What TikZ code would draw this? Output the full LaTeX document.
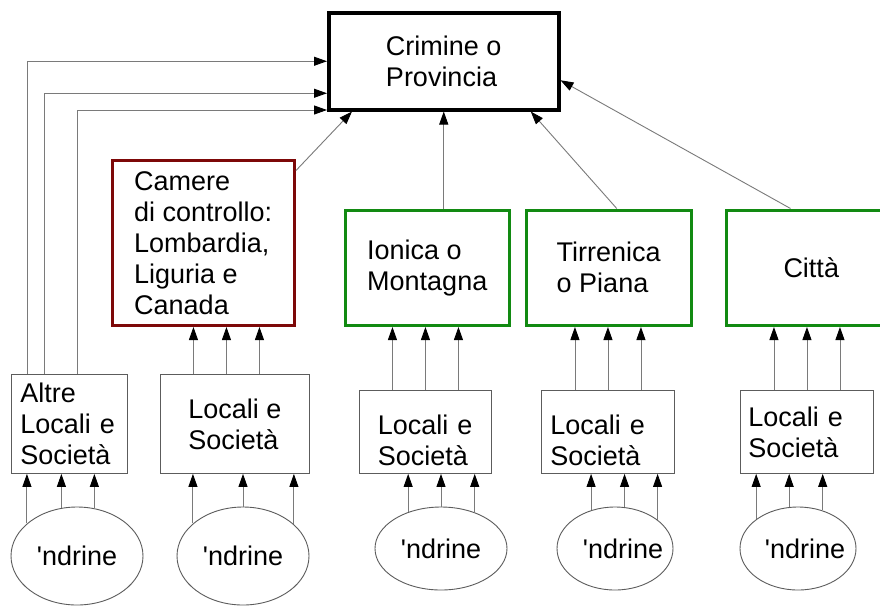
\documentclass[tikz,border=0pt]{standalone}
\usepackage{fontspec}
\setmainfont{Liberation Sans}
\usepackage{tikz}
\usetikzlibrary{shapes.geometric, arrows.meta, positioning, calc}
\definecolor{MaroonRed}{HTML}{7D0808}
\definecolor{LeafGreen}{HTML}{128A12}
\definecolor{WireGray}{HTML}{7A7A7A}
\definecolor{EdgeGray}{HTML}{5C5C5C}

\begin{document}
\begin{tikzpicture}[x=1pt, y=-1pt,
    font=\fontsize{27}{31}\selectfont,
    thickbox/.style={draw, line width=3.5pt, anchor=north west, align=left, inner sep=0pt},
    localbox/.style={draw=EdgeGray, line width=0.9pt, anchor=north west, align=left, inner ysep=0pt},
    cosca/.style={ellipse, draw=EdgeGray, line width=0.9pt, inner sep=0pt},
    feed/.style={draw=WireGray, line width=0.9pt, -{Triangle[length=13pt, width=9pt, color=black]}}]
\useasboundingbox (0,0) rectangle (880,606);
\fill[white] (0,0) rectangle (880,606);

% vertici
\node[thickbox, minimum width=230pt, minimum height=97pt] (crim) at (327,11) {Crimine o\\Provincia};
\node[thickbox, draw=MaroonRed, minimum width=182pt, minimum height=165pt] (cam) at (110.5,158.5)
    {Camere\\di controllo:\\Lombardia,\\Liguria e\\Canada};
\node[thickbox, draw=LeafGreen, minimum width=164pt, minimum height=115pt] (ion) at (343.5,208.5) {Ionica o\\Montagna};
\node[thickbox, draw=LeafGreen, minimum width=165pt, minimum height=115pt] (tir) at (524.5,208.5) {Tirrenica\\o Piana};
\node[thickbox, draw=LeafGreen, minimum width=170pt, minimum height=115pt] (cit) at (724.5,208.5) {Città};

% locali
\node[localbox, text width=98pt, inner xsep=9pt, minimum height=99pt] (alt) at (11,374) {Altre\\Locali e\\Società};
\node[localbox, minimum width=149pt, minimum height=99pt] (loc2) at (160,374) {Locali e\\Società};
\node[localbox, text width=95pt, inner xsep=18.5pt, minimum height=83pt, text height=36pt] (loc3) at (359,390) {Locali e\\Società};
\node[localbox, text width=115pt, inner xsep=9pt, minimum height=83pt, text height=36pt] (loc4) at (541,390) {Locali e\\Società};
\node[localbox, text width=117pt, inner xsep=8pt, minimum height=83pt] (loc5) at (740,390) {Locali e\\Società};

% 'ndrine
\node[cosca, minimum width=132pt, minimum height=98pt] (nd1) at (77,556) {\textquotesingle ndrine};
\node[cosca, minimum width=132pt, minimum height=98pt] (nd2) at (243,556) {\textquotesingle ndrine};
\node[cosca, minimum width=132pt, minimum height=83pt] (nd3) at (441,548.5) {\textquotesingle ndrine};
\node[cosca, minimum width=116pt, minimum height=83pt] (nd4) at (615,548.5) {\hspace*{8pt}\textquotesingle ndrine\hspace*{-8pt}};
\node[cosca, minimum width=116pt, minimum height=83pt] (nd5) at (798,548.5) {\hspace*{7pt}\textquotesingle ndrine\hspace*{-7pt}};

% verso il Crimine
\draw[feed] ([xshift=-42pt]alt.north) |- (crim.west);
\draw[feed] ([xshift=-25pt]alt.north) |- ([yshift=-32pt]crim.west);
\draw[feed] ([xshift=8pt]alt.north) |- ([yshift=1.5pt]crim.south west);
\draw[feed] ([yshift=-12pt]cam.north east) -- ([xshift=25pt]crim.south west);
\draw[feed] (ion.north -| crim.south) -- (crim.south);
\draw[feed] ([xshift=8pt]tir.north) -- ([xshift=87pt]crim.south);
\draw[feed] ([xshift=66pt]cit.north west) -- ([yshift=-19pt]crim.east);

% locali verso mandamenti
\foreach \dx in {-41.5,-8.5,24.5}
  \draw[feed] ([xshift=\dx pt]loc2.north) -- ([xshift=\dx pt]loc2.north |- cam.south);
\foreach \dx in {-33,0,33} {
  \draw[feed] ([xshift=\dx pt]loc3.north) -- ([xshift=\dx pt]loc3.north |- ion.south);
  \draw[feed] ([xshift=\dx pt]loc4.north) -- ([xshift=\dx pt]loc4.north |- tir.south);
  \draw[feed] ([xshift=\dx pt]loc5.north) -- ([xshift=\dx pt]loc5.north |- cit.south);
}

% 'ndrine verso locali
\foreach \a in {147.4,108.6,70.2}
  \draw[feed] (nd1.\a) -- (nd1.\a |- alt.south);
\foreach \a in {147.4,90,32.6}
  \draw[feed] (nd2.\a) -- (nd2.\a |- loc2.south);
\foreach \a in {132.6,90,47.4}
  \draw[feed] (nd3.\a) -- (nd3.\a |- loc3.south);
\foreach \a in {122.4,77.6,34.3}
  \draw[feed] (nd4.\a) -- (nd4.\a |- loc4.south);
\foreach \a in {145.7,102.4,57.6}
  \draw[feed] (nd5.\a) -- (nd5.\a |- loc5.south);
\end{tikzpicture}
\end{document}
